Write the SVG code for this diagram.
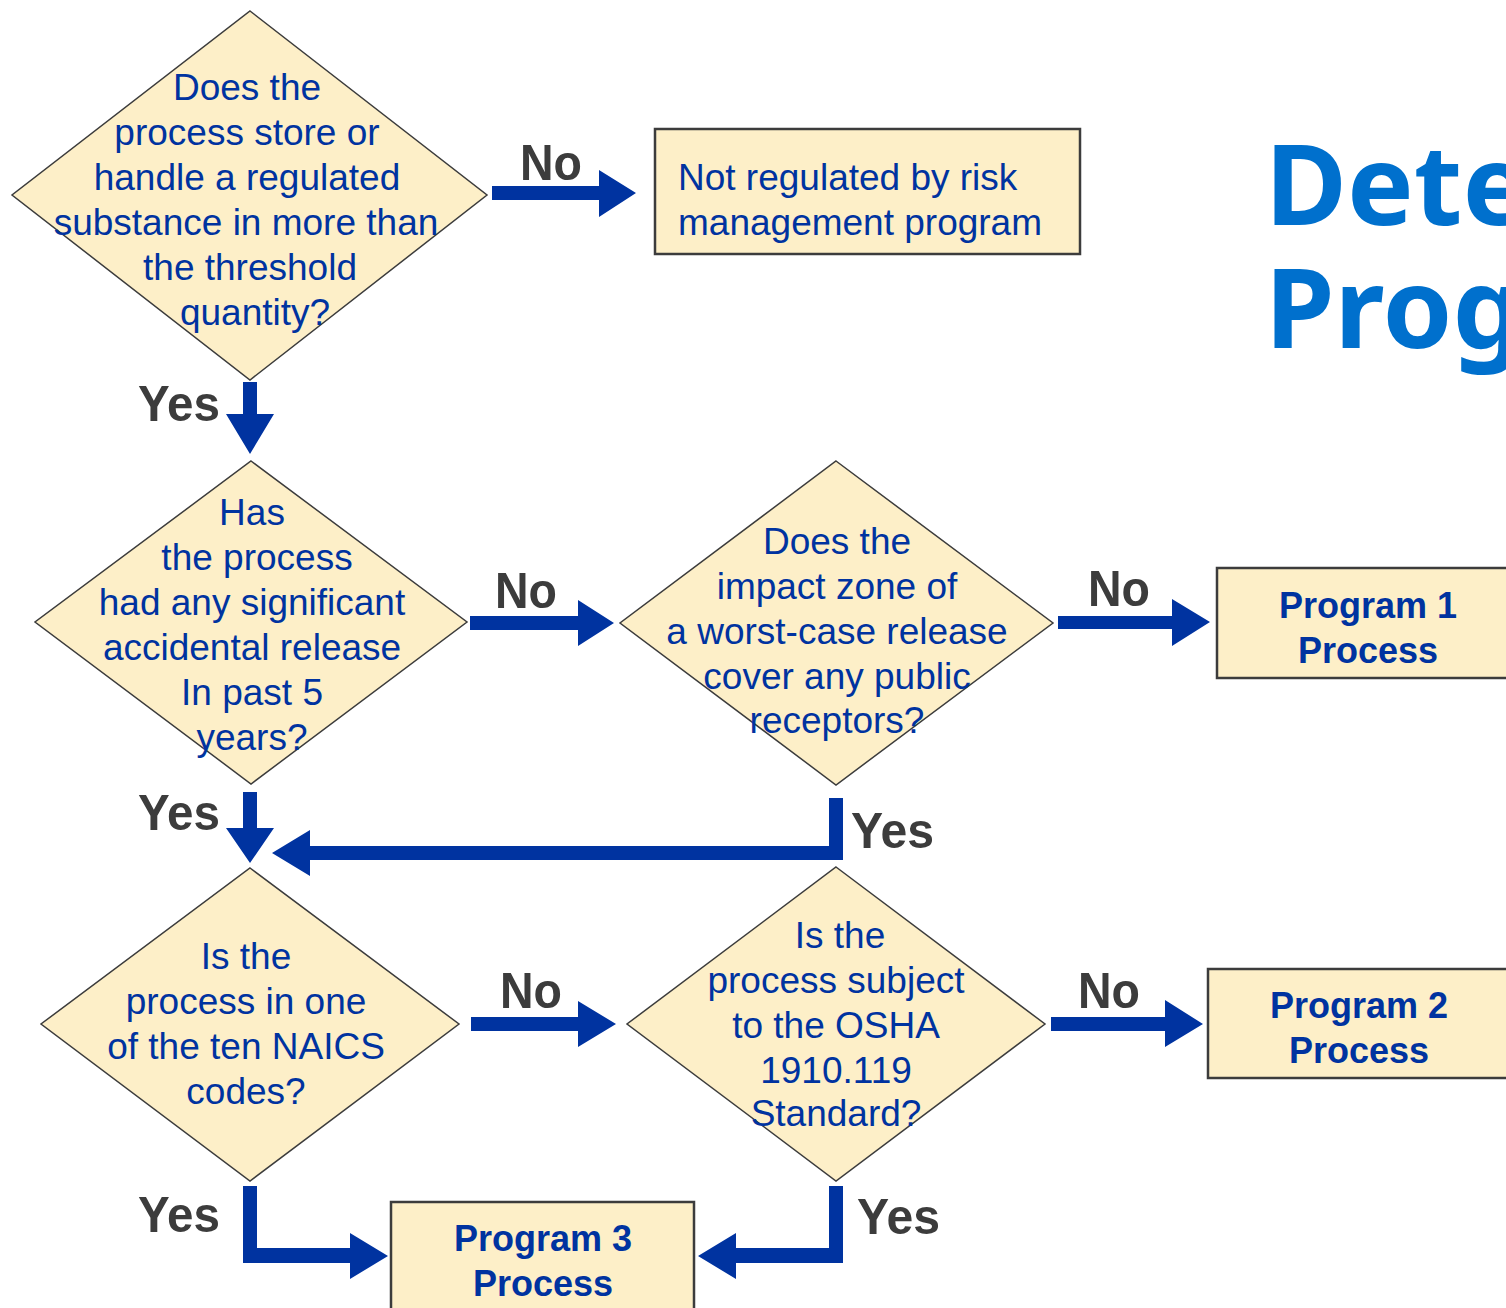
<svg xmlns="http://www.w3.org/2000/svg" width="1506" height="1308" viewBox="0 0 1506 1308">
<style>
.dia{fill:#FDEFC8;stroke:#3c3c3c;stroke-width:1.5}
.box{fill:#FDEFC8;stroke:#3c3c3c;stroke-width:2.5}
.t{font-family:"Liberation Sans",Arial,sans-serif;font-size:37px;fill:#0033A0;text-anchor:middle}
.tl{font-family:"Liberation Sans",Arial,sans-serif;font-size:37px;fill:#0033A0}
.pb{font-family:"Liberation Sans",Arial,sans-serif;font-size:36px;font-weight:bold;fill:#0033A0;text-anchor:middle}
.lab{font-family:"Liberation Sans",Arial,sans-serif;font-size:50px;font-weight:bold;fill:#3c3c3c}
.arr{fill:#0033A0}
.title{font-family:"Noto Sans","Open Sans",sans-serif;font-size:112px;font-weight:bold;fill:#0070CD}
</style>
<rect width="1506" height="1308" fill="#ffffff"/>
<g id="title">
<text class="title"><tspan x="1265" y="225">Dete</tspan><tspan x="1265" y="348">Prog</tspan></text>
</g>
<g id="q1">
<polygon class="dia" points="250,11 487,195 250,380 12,195"/>
<text class="t" x="247" y="100">Does the</text>
<text class="t" x="247" y="145">process store or</text>
<text class="t" x="247" y="190">handle a regulated</text>
<text class="t" x="246" y="235">substance in more than</text>
<text class="t" x="250" y="280">the threshold</text>
<text class="t" x="255" y="325">quantity?</text>
</g>
<g id="notreg">
<rect class="box" x="655" y="129" width="425" height="125"/>
<text class="tl" x="678" y="190">Not regulated by risk</text>
<text class="tl" x="678" y="235">management program</text>
</g>
<g id="q2">
<polygon class="dia" points="251,461 467,622 251,784 35,622"/>
<text class="t" x="252" y="525">Has</text>
<text class="t" x="257" y="570">the process</text>
<text class="t" x="252" y="615">had any significant</text>
<text class="t" x="252" y="660">accidental release</text>
<text class="t" x="252" y="705">In past 5</text>
<text class="t" x="252" y="750">years?</text>
</g>
<g id="q3">
<polygon class="dia" points="836,461 1053,623 836,785 620,623"/>
<text class="t" x="837" y="554">Does the</text>
<text class="t" x="837" y="599">impact zone of</text>
<text class="t" x="837" y="644">a worst-case release</text>
<text class="t" x="837" y="689">cover any public</text>
<text class="t" x="837" y="733">receptors?</text>
</g>
<g id="p1">
<rect class="box" x="1217" y="568" width="302" height="110"/>
<text class="pb" x="1368" y="618">Program 1</text>
<text class="pb" x="1368" y="663">Process</text>
</g>
<g id="q4">
<polygon class="dia" points="250,868 459,1024 250,1181 41,1024"/>
<text class="t" x="246" y="969">Is the</text>
<text class="t" x="246" y="1014">process in one</text>
<text class="t" x="246" y="1059">of the ten NAICS</text>
<text class="t" x="246" y="1104">codes?</text>
</g>
<g id="q5">
<polygon class="dia" points="836,867 1045,1024 836,1181 627,1024"/>
<text class="t" x="840" y="948">Is the</text>
<text class="t" x="836" y="993">process subject</text>
<text class="t" x="836" y="1038">to the OSHA</text>
<text class="t" x="836" y="1083">1910.119</text>
<text class="t" x="836" y="1126">Standard?</text>
</g>
<g id="p2">
<rect class="box" x="1208" y="969" width="302" height="109"/>
<text class="pb" x="1359" y="1018">Program 2</text>
<text class="pb" x="1359" y="1063">Process</text>
</g>
<g id="p3">
<rect class="box" x="391" y="1202" width="303" height="120"/>
<text class="pb" x="543" y="1251">Program 3</text>
<text class="pb" x="543" y="1296">Process</text>
</g>
<g id="connectors">
<polygon class="arr" points="492,186 599,186 599,170 636,193 599,217 599,200 492,200"/>
<polygon class="arr" points="243,382 257,382 257,414 274,414 250,454 226,414 243,414"/>
<polygon class="arr" points="470,616 578,616 578,600 614,623 578,646 578,630 470,630"/>
<polygon class="arr" points="1058,616 1172,616 1172,599 1210,622 1172,646 1172,629 1058,629"/>
<polygon class="arr" points="243,792 257,792 257,828 274,828 250,863 226,828 243,828"/>
<polygon class="arr" points="829,798 843,798 843,860 310,860 310,876 272,853 310,830 310,846 829,846"/>
<polygon class="arr" points="471,1017 578,1017 578,1001 616,1024 578,1047 578,1031 471,1031"/>
<polygon class="arr" points="1051,1017 1165,1017 1165,1000 1203,1024 1165,1047 1165,1031 1051,1031"/>
<polygon class="arr" points="243,1186 257,1186 257,1248 350,1248 350,1233 388,1256 350,1279 350,1263 243,1263"/>
<polygon class="arr" points="829,1186 843,1186 843,1263 736,1263 736,1279 698,1256 736,1233 736,1248 829,1248"/>
</g>
<g id="labels">
<text class="lab" x="520" y="180" textLength="62" lengthAdjust="spacingAndGlyphs">No</text>
<text class="lab" x="138" y="421" textLength="82" lengthAdjust="spacingAndGlyphs">Yes</text>
<text class="lab" x="495" y="608" textLength="62" lengthAdjust="spacingAndGlyphs">No</text>
<text class="lab" x="1088" y="606" textLength="62" lengthAdjust="spacingAndGlyphs">No</text>
<text class="lab" x="138" y="830" textLength="82" lengthAdjust="spacingAndGlyphs">Yes</text>
<text class="lab" x="851" y="848" textLength="83" lengthAdjust="spacingAndGlyphs">Yes</text>
<text class="lab" x="500" y="1008" textLength="62" lengthAdjust="spacingAndGlyphs">No</text>
<text class="lab" x="1078" y="1008" textLength="62" lengthAdjust="spacingAndGlyphs">No</text>
<text class="lab" x="138" y="1232" textLength="82" lengthAdjust="spacingAndGlyphs">Yes</text>
<text class="lab" x="857" y="1234" textLength="83" lengthAdjust="spacingAndGlyphs">Yes</text>
</g>
</svg>
